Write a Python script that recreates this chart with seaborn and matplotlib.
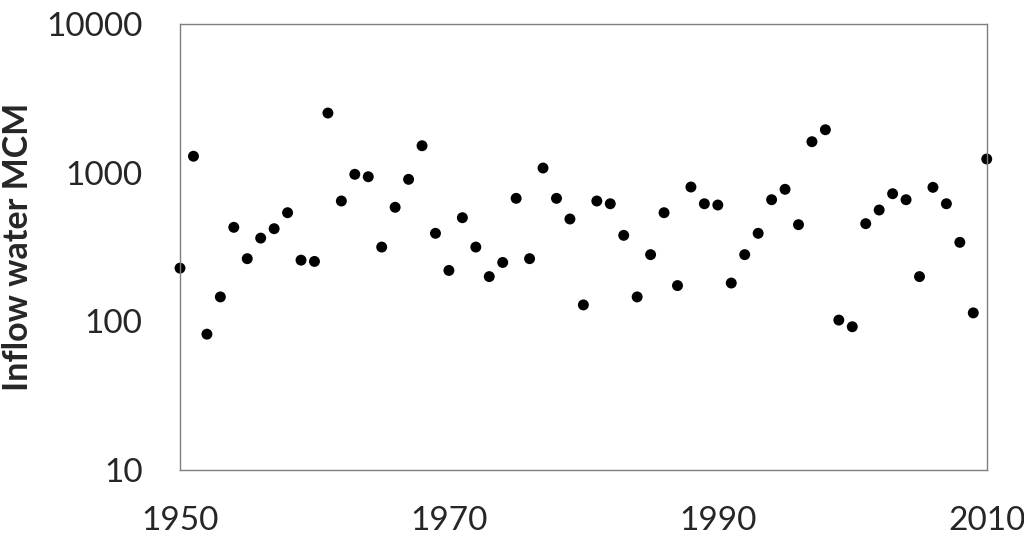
import numpy as np
import pandas as pd
import matplotlib
matplotlib.use("Agg")
import matplotlib.pyplot as plt
import matplotlib.ticker as mticker
import seaborn as sns

# Annual inflow (MCM)
years = list(range(1950, 2011))
inflow = [228, 1290, 82, 146, 429, 264, 363, 420, 538, 258,
          253, 2519, 645, 975, 939, 316, 585, 902, 1518, 391,
          220, 498, 316, 200, 249, 672, 264, 1075, 672, 488,
          129, 645, 618, 379, 146, 281, 538, 174, 801, 618,
          606, 181, 281, 391, 658, 773, 447, 1616, 1945, 102,
          92, 454, 561, 722, 658, 200, 797, 618, 340, 114,
          1236]
y_ticks = [10, 100, 1000, 10000]
x_ticks = [1950, 1970, 1990, 2010]

df = pd.DataFrame({"year": years, "inflow": inflow})

sns.set_style("white")
plt.rcParams["font.family"] = ["Lato", "DejaVu Sans"]

fig = plt.figure(figsize=(10.24, 5.42), dpi=100)
ax = fig.add_axes([0.1758, 0.1328, 0.7878, 0.8229])

sns.scatterplot(data=df, x="year", y="inflow", ax=ax, color="black",
                s=62, edgecolor="none", clip_on=False, legend=False)

ax.set_yscale("log")
ax.set_ylim(10, 10000)
ax.set_xlim(1950, 2010)
ax.yaxis.set_major_locator(mticker.FixedLocator(y_ticks))
ax.yaxis.set_major_formatter(mticker.FuncFormatter(lambda v, p: f"{int(v)}"))
ax.yaxis.set_minor_locator(mticker.NullLocator())
ax.set_xticks(x_ticks)

ax.tick_params(axis="y", length=0, pad=27, labelsize=24)
ax.tick_params(axis="x", length=0, pad=26, labelsize=24)

ax.set_xlabel("")
ax.set_ylabel("Inflow water MCM", fontsize=24.5, fontweight="bold", labelpad=9)

for side in ["left", "right", "top", "bottom"]:
    ax.spines[side].set_visible(True)
    ax.spines[side].set_color("#7f7f7f")
    ax.spines[side].set_linewidth(1.0)

fig.savefig("out.png", dpi=100)
